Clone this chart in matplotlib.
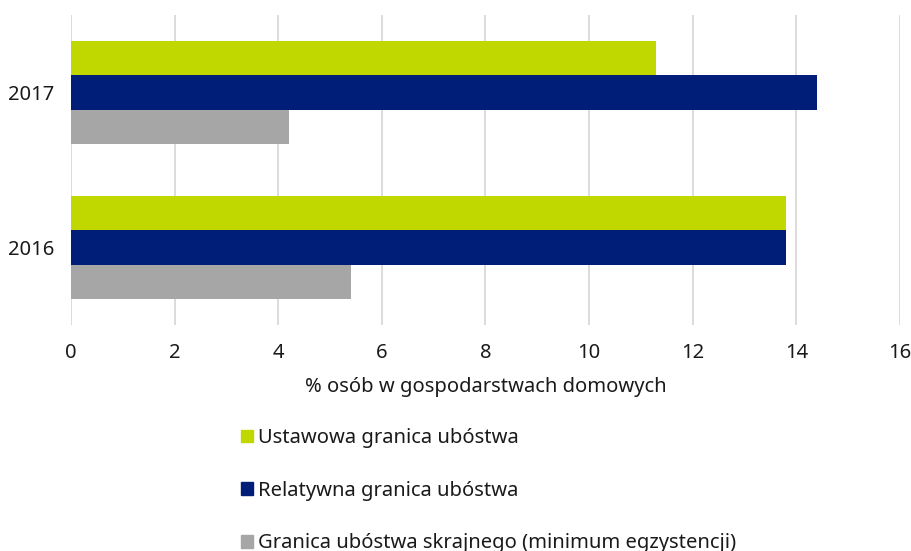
import numpy as np
import matplotlib
matplotlib.use('Agg')
import matplotlib.pyplot as plt
from matplotlib.patches import Patch

plt.rcParams['font.family'] = ['Noto Sans', 'DejaVu Sans']

# data
years = ['2016', '2017']
ustawowa = [13.8, 11.3]
relatywna = [13.8, 14.4]
skrajna = [5.4, 4.2]
series_names = ['Ustawowa granica ubóstwa',
                'Relatywna granica ubóstwa',
                'Granica ubóstwa skrajnego (minimum egzystencji)']
colors = ['#c0d800', '#001e77', '#a6a6a6']

fig = plt.figure(figsize=(9.12, 5.51), dpi=100)
ax = fig.add_axes([71/912, 1-325/551, (900-71)/912, 310/551])

y = np.arange(len(years))
h = 1/4.5
# top bar in each group is the first series
for k, vals in enumerate([ustawowa, relatywna, skrajna]):
    ax.barh(y + h - k*h, vals, height=h, color=colors[k], zorder=3)

ax.set_xlim(0, 16)
ax.set_ylim(-0.5, 1.5)
ax.set_xticks(np.arange(0, 17, 2))
ax.set_yticks(y)
ax.set_yticklabels(years)
ax.grid(axis='x', color='#d9d9d9', linewidth=1.3, zorder=0)
for s in ax.spines.values():
    s.set_visible(False)
ax.tick_params(length=0, labelsize=14.5, colors='#1a1a1a')
ax.tick_params(axis='x', pad=13)
ax.tick_params(axis='y', pad=12)
ax.set_xlabel('% osób w gospodarstwach domowych', fontsize=14.5, color='#1a1a1a', labelpad=10)

handles = [Patch(color=c) for c in colors]
fig.legend(handles, series_names, loc='upper left', bbox_to_anchor=(241/912, 1-428/551),
           frameon=False, fontsize=14.5, handlelength=0.6, handleheight=0.6,
           handletextpad=0.25, labelspacing=1.62, borderpad=0, borderaxespad=0,
           labelcolor='#1a1a1a')

fig.savefig('out.png', dpi=100)
